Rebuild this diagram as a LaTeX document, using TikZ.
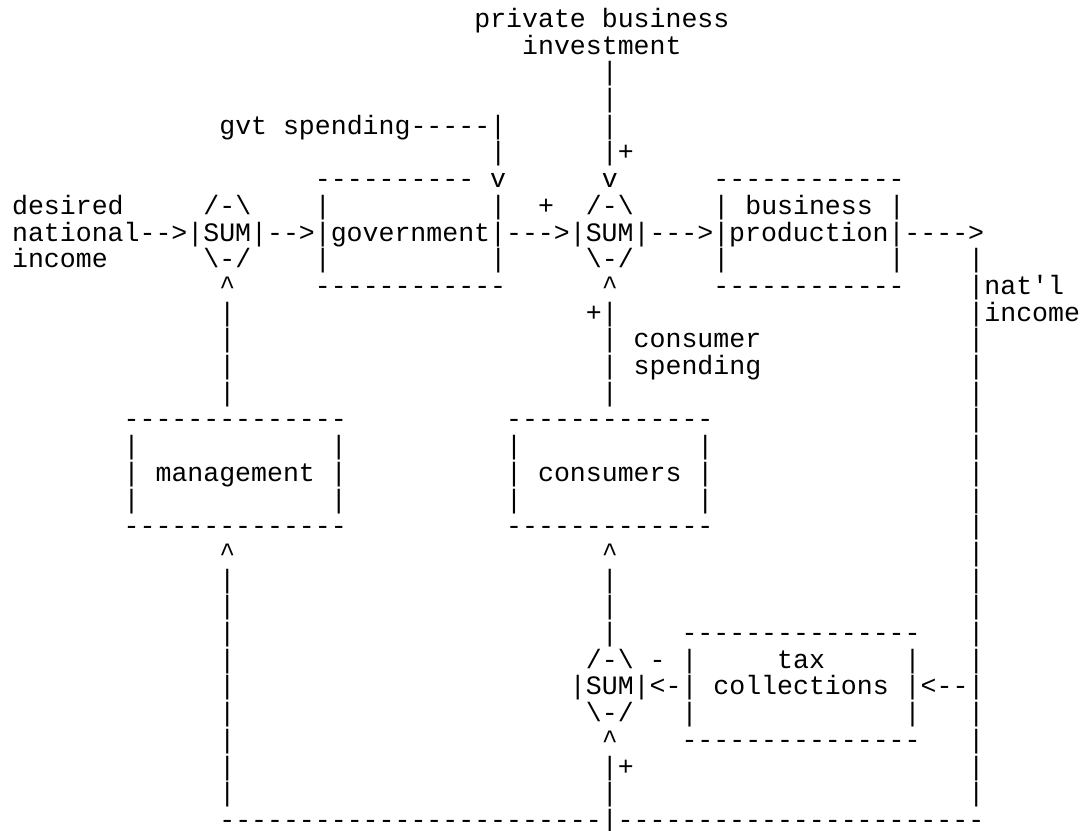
\documentclass[tikz,border=0pt]{standalone}
\usepackage{fontspec}
\setmonofont{Liberation Mono}
\usepackage{tikz}

\newcommand\asciifont{\ttfamily\fontsize{13.28pt}{13.35pt}\selectfont}
\tikzset{ascii/.style={anchor=base west,inner sep=0pt,outer sep=0pt,text height=9pt,text depth=4pt,font=\asciifont}}
\newcommand\bs{\textbackslash}
\newcommand\up{\textasciicircum}

\begin{document}
\begin{tikzpicture}[x=7.97pt,y=-13.35pt]
  \useasboundingbox (-0.76,-1.03) rectangle (67.25,30.09);
  % top input
  \node (private) at (29,0) [ascii] {private business};
  \node (invest) at (32,1) [ascii] {investment};
  \node (i2) at (37,2) [ascii] {|};
  \node (i3) at (37,3) [ascii] {|};
  \node (gvt) at (13,4) [ascii] {gvt spending-----|};
  \node (i4) at (37,4) [ascii] {|};
  \node (g5) at (30,5) [ascii] {|};
  \node (i5) at (37,5) [ascii] {|+};
  % first row of blocks
  \node (govtop) at (19,6) [ascii] {---------- v};
  \node (i6) at (37,6) [ascii] {v};
  \node (bustop) at (44,6) [ascii] {------------};
  \node (desired) at (0,7) [ascii] {desired};
  \node (sumAtop) at (12,7) [ascii] {/-\bs};
  \node (govl7) at (19,7) [ascii] {|};
  \node (govr7) at (30,7) [ascii] {|};
  \node (plusB) at (33,7) [ascii] {+};
  \node (sumBtop) at (36,7) [ascii] {/-\bs};
  \node (busl7) at (44,7) [ascii] {|};
  \node (business) at (46,7) [ascii] {business};
  \node (busr7) at (55,7) [ascii] {|};
  \node (national) at (0,8) [ascii] {national-->|SUM|-->|government|--->|SUM|--->|production|---->};
  \node (income) at (0,9) [ascii] {income};
  \node (sumAbot) at (12,9) [ascii] {\bs-/};
  \node (govl9) at (19,9) [ascii] {|};
  \node (govr9) at (30,9) [ascii] {|};
  \node (sumBbot) at (36,9) [ascii] {\bs-/};
  \node (busl9) at (44,9) [ascii] {|};
  \node (busr9) at (55,9) [ascii] {|};
  \node (n9) at (60,9) [ascii] {|};
  \node (sumAup) at (13,10) [ascii] {\up};
  \node (govbot) at (19,10) [ascii] {------------};
  \node (sumBup) at (37,10) [ascii] {\up};
  \node (busbot) at (44,10) [ascii] {------------};
  \node (natl) at (60,10) [ascii] {|nat'l};
  \node (m11) at (13,11) [ascii] {|};
  \node (c11) at (36,11) [ascii] {+|};
  \node (natinc) at (60,11) [ascii] {|income};
  \node (m12) at (13,12) [ascii] {|};
  \node (c12) at (37,12) [ascii] {|};
  \node (consumer) at (39,12) [ascii] {consumer};
  \node (n12) at (60,12) [ascii] {|};
  \node (m13) at (13,13) [ascii] {|};
  \node (c13) at (37,13) [ascii] {|};
  \node (spending) at (39,13) [ascii] {spending};
  \node (n13) at (60,13) [ascii] {|};
  \node (m14) at (13,14) [ascii] {|};
  \node (c14) at (37,14) [ascii] {|};
  \node (n14) at (60,14) [ascii] {|};
  % management and consumers
  \node (mantop) at (7,15) [ascii] {--------------};
  \node (contop) at (31,15) [ascii] {-------------};
  \node (n15) at (60,15) [ascii] {|};
  \node (manl16) at (7,16) [ascii] {|};
  \node (manr16) at (20,16) [ascii] {|};
  \node (conl16) at (31,16) [ascii] {|};
  \node (conr16) at (43,16) [ascii] {|};
  \node (n16) at (60,16) [ascii] {|};
  \node (manl17) at (7,17) [ascii] {|};
  \node (management) at (9,17) [ascii] {management};
  \node (manr17) at (20,17) [ascii] {|};
  \node (conl17) at (31,17) [ascii] {|};
  \node (consumers) at (33,17) [ascii] {consumers};
  \node (conr17) at (43,17) [ascii] {|};
  \node (n17) at (60,17) [ascii] {|};
  \node (manl18) at (7,18) [ascii] {|};
  \node (manr18) at (20,18) [ascii] {|};
  \node (conl18) at (31,18) [ascii] {|};
  \node (conr18) at (43,18) [ascii] {|};
  \node (n18) at (60,18) [ascii] {|};
  \node (manbot) at (7,19) [ascii] {--------------};
  \node (conbot) at (31,19) [ascii] {-------------};
  \node (n19) at (60,19) [ascii] {|};
  \node (manup) at (13,20) [ascii] {\up};
  \node (conup) at (37,20) [ascii] {\up};
  \node (n20) at (60,20) [ascii] {|};
  \node (m21) at (13,21) [ascii] {|};
  \node (c21) at (37,21) [ascii] {|};
  \node (n21) at (60,21) [ascii] {|};
  \node (m22) at (13,22) [ascii] {|};
  \node (c22) at (37,22) [ascii] {|};
  \node (n22) at (60,22) [ascii] {|};
  % tax loop
  \node (m23) at (13,23) [ascii] {|};
  \node (c23) at (37,23) [ascii] {|};
  \node (taxtop) at (42,23) [ascii] {---------------};
  \node (n23) at (60,23) [ascii] {|};
  \node (m24) at (13,24) [ascii] {|};
  \node (sumCtop) at (36,24) [ascii] {/-\bs{} -};
  \node (taxl24) at (42,24) [ascii] {|};
  \node (tax) at (48,24) [ascii] {tax};
  \node (taxr24) at (56,24) [ascii] {|};
  \node (n24) at (60,24) [ascii] {|};
  \node (m25) at (13,25) [ascii] {|};
  \node (sumC) at (35,25) [ascii] {|SUM|<-|};
  \node (collections) at (44,25) [ascii] {collections};
  \node (taxin) at (56,25) [ascii] {|<--|};
  \node (m26) at (13,26) [ascii] {|};
  \node (sumCbot) at (36,26) [ascii] {\bs-/};
  \node (taxl26) at (42,26) [ascii] {|};
  \node (taxr26) at (56,26) [ascii] {|};
  \node (n26) at (60,26) [ascii] {|};
  \node (m27) at (13,27) [ascii] {|};
  \node (sumCup) at (37,27) [ascii] {\up};
  \node (taxbot) at (42,27) [ascii] {---------------};
  \node (n27) at (60,27) [ascii] {|};
  \node (m28) at (13,28) [ascii] {|};
  \node (c28) at (37,28) [ascii] {|+};
  \node (n28) at (60,28) [ascii] {|};
  \node (m29) at (13,29) [ascii] {|};
  \node (c29) at (37,29) [ascii] {|};
  \node (n29) at (60,29) [ascii] {|};
  \node (bottom) at (13,30) [ascii] {------------------------|-----------------------};
\end{tikzpicture}
\end{document}
